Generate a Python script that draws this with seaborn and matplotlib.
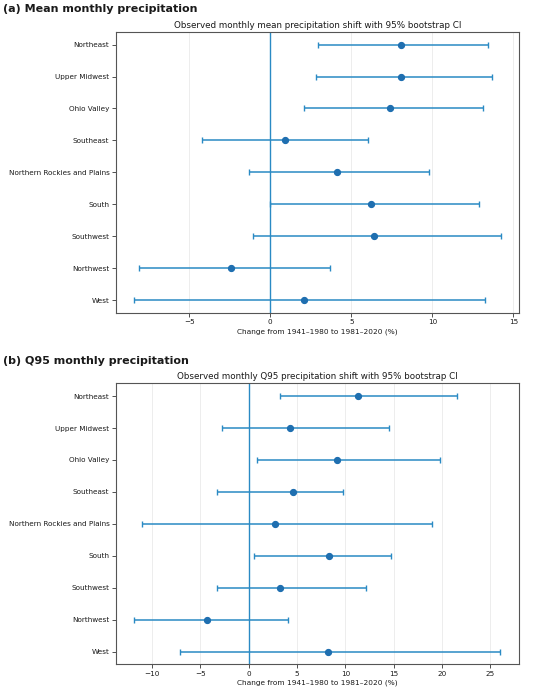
import numpy as np
import pandas as pd
import matplotlib
matplotlib.use("Agg")
import matplotlib.pyplot as plt
import seaborn as sns

regions = ["Northeast", "Upper Midwest", "Ohio Valley", "Southeast",
           "Northern Rockies and Plains", "South", "Southwest", "Northwest", "West"]

mean_est = [8.05, 8.07, 7.39, 0.91, 4.14, 6.24, 6.40, -2.43, 2.06]
mean_lo = [2.96, 2.80, 2.10, -4.20, -1.30, 0.0, -1.09, -8.11, -8.42]
mean_hi = [13.42, 13.67, 13.15, 6.03, 9.82, 12.90, 14.22, 3.66, 13.27]

q95_est = [11.27, 4.24, 9.10, 4.58, 2.69, 8.30, 3.27, -4.28, 8.17]
q95_lo = [3.27, -2.73, 0.89, -3.25, -11.03, 0.55, -3.28, -11.89, -7.10]
q95_hi = [21.51, 14.54, 19.75, 9.75, 18.92, 14.68, 12.16, 4.06, 25.99]

panel_titles = ["(a) Mean monthly precipitation", "(b) Q95 monthly precipitation"]
axes_titles = ["Observed monthly mean precipitation shift with 95% bootstrap CI",
               "Observed monthly Q95 precipitation shift with 95% bootstrap CI"]
xlabel = "Change from 1941\u20131980 to 1981\u20132020 (%)"
xlims = [(-9.52, 15.33), (-13.72, 27.92)]

sns.set_theme(style="ticks")
plt.rcParams["font.family"] = ["DejaVu Sans"]
plt.rcParams["text.color"] = "#1a1a1a"
plt.rcParams["xtick.color"] = "#333333"
plt.rcParams["ytick.color"] = "#333333"
plt.rcParams["xtick.labelcolor"] = "#1a1a1a"
plt.rcParams["ytick.labelcolor"] = "#1a1a1a"
plt.rcParams["axes.labelcolor"] = "#1a1a1a"

line_color = "#2a8ac4"
point_color = "#1f6fb0"

fig = plt.figure(figsize=(5.5, 6.92), dpi=100)
ax_a = fig.add_axes([0.211, 0.548, 0.732, 0.406])
ax_b = fig.add_axes([0.211, 0.040, 0.732, 0.406])

datasets = [(mean_est, mean_lo, mean_hi), (q95_est, q95_lo, q95_hi)]
for ax, (est, lo, hi), ptitle, atitle, xl in zip([ax_a, ax_b], datasets, panel_titles, axes_titles, xlims):
    df = pd.DataFrame({"region": regions, "est": est, "lo": lo, "hi": hi})
    ax.axvline(0, color=line_color, lw=1.0, zorder=1)
    pos = np.arange(len(df))
    ax.errorbar(df["est"], pos, xerr=[df["est"] - df["lo"], df["hi"] - df["est"]],
                fmt="none", ecolor=line_color, elinewidth=1.1, capsize=2.5,
                capthick=1.0, zorder=2)
    sns.pointplot(data=df, x="est", y="region", order=regions, linestyle="none",
                  errorbar=None, color=point_color, markers="o",
                  markersize=3.2, ax=ax, zorder=3)
    ax.set_ylim(len(regions) - 1 + 0.4, -0.4)
    ax.set_xlim(*xl)
    ax.grid(axis="x", color="#e6e6e6", lw=0.5)
    ax.grid(axis="y", visible=False)
    ax.set_axisbelow(True)
    ax.set_ylabel("")
    ax.set_xlabel(xlabel, fontsize=5.3, labelpad=2)
    ax.set_title(atitle, fontsize=6.3, pad=3)
    ax.tick_params(axis="both", labelsize=5.2, length=2.8, width=0.6, pad=2)
    for s in ax.spines.values():
        s.set_visible(True)
        s.set_color("#555555")
        s.set_linewidth(0.8)

fig.text(0.006, 1 - 8.7 / 692, panel_titles[0], fontsize=8.0, fontweight="bold", va="center", ha="left")
fig.text(0.006, 1 - 360.7 / 692, panel_titles[1], fontsize=8.0, fontweight="bold", va="center", ha="left")

fig.savefig("out.png", dpi=100, facecolor="white")
